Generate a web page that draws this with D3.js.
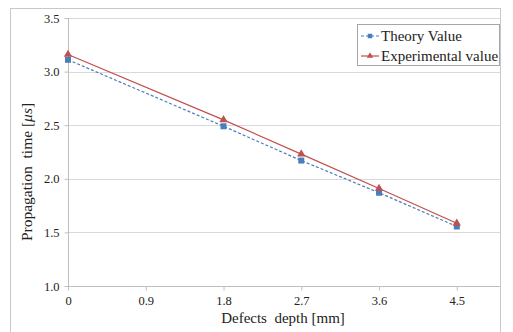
<!DOCTYPE html>
<html>
<head>
<meta charset="utf-8">
<script src="https://cdn.jsdelivr.net/npm/d3@7"></script>
<style>
  body { margin: 0; background: #fff; }
  svg text { font-family: "Liberation Serif", "Times New Roman", serif !important; fill: #222; }
</style>
</head>
<body>
<svg id="chart" width="513" height="332"></svg>
<script>
// data
const depths = [0, 1.8, 2.7, 3.6, 4.5];
const theoryValues = [3.11, 2.49, 2.17, 1.87, 1.555];
const experimentalValues = [3.16, 2.55, 2.23, 1.91, 1.585];
const xTicks = [0, 0.9, 1.8, 2.7, 3.6, 4.5];
const yTicks = [1.0, 1.5, 2.0, 2.5, 3.0, 3.5];
const seriesNames = ['Theory Value', 'Experimental value'];

const width = 513, height = 332;
const margin = { top: 18, right: 13, bottom: 46, left: 68 };

const svg = d3.select('#chart');

// outer chart frame
svg.append('rect')
  .attr('x', 10.5).attr('y', 8.5)
  .attr('width', 490).attr('height', 330)
  .attr('fill', '#fff').attr('stroke', '#c8c8c8');

const x = d3.scaleLinear().domain([0, 5]).range([margin.left, width - margin.right]);
const y = d3.scaleLinear().domain([1, 3.5]).range([height - margin.bottom, margin.top]);

// gridlines
svg.append('g')
  .selectAll('line')
  .data(yTicks.slice(1))
  .join('line')
  .attr('x1', x(0)).attr('x2', x(5))
  .attr('y1', d => Math.round(y(d)) + 0.5).attr('y2', d => Math.round(y(d)) + 0.5)
  .attr('stroke', '#d9d9d9');

// axes
const xAxis = svg.append('g')
  .attr('transform', `translate(0,${Math.round(y(1)) + 0.5})`)
  .call(d3.axisBottom(x).tickValues(xTicks).tickSize(4)
    .tickFormat(d => d === 0 ? '0' : d3.format('.1f')(d)));
const yAxis = svg.append('g')
  .attr('transform', `translate(${Math.round(x(0)) + 0.5},0)`)
  .call(d3.axisLeft(y).tickValues(yTicks).tickSize(4).tickFormat(d3.format('.1f')));

[xAxis, yAxis].forEach(a => {
  a.attr('font-family', null);
  a.select('.domain').attr('stroke', '#bfbfbf');
  a.selectAll('.tick line').attr('stroke', '#bfbfbf');
  a.selectAll('.tick text').attr('font-size', 12.5).attr('fill', '#222');
});
xAxis.select('.domain').attr('d', `M${x(0)},0H${x(5)}`);
xAxis.selectAll('.tick line').attr('y2', 4);
xAxis.selectAll('.tick text').attr('dy', '0.95em');
yAxis.select('.domain').attr('d', `M0,${y(1)}V${y(3.5)}`);
yAxis.selectAll('.tick line').attr('x2', -4);
yAxis.selectAll('.tick text').attr('x', -9);

// axis titles
svg.append('text')
  .attr('x', 283).attr('y', 323)
  .attr('text-anchor', 'middle').attr('font-size', 15)
  .attr('xml:space', 'preserve')
  .text('Defects  depth [mm]');

const yTitle = svg.append('text')
  .attr('transform', 'translate(32,172) rotate(-90)')
  .attr('text-anchor', 'middle').attr('font-size', 15.5)
  .attr('xml:space', 'preserve');
yTitle.append('tspan').text('Propagation  time [');
yTitle.append('tspan').attr('font-style', 'italic').text('\u03bcs');
yTitle.append('tspan').text(']');

// series
const series = [
  { name: seriesNames[0], values: theoryValues, color: '#4a7ebb', dash: '3,2', marker: 'square' },
  { name: seriesNames[1], values: experimentalValues, color: '#c0504d', dash: null, marker: 'triangle' },
];

const line = d3.line().x(d => x(d[0])).y(d => y(d[1]));

series.forEach(s => {
  const pts = depths.map((d, i) => [d, s.values[i]]);
  svg.append('path')
    .datum(pts)
    .attr('d', line)
    .attr('fill', 'none')
    .attr('stroke', s.color)
    .attr('stroke-width', 1.2)
    .attr('stroke-dasharray', s.dash);
  svg.append('g')
    .selectAll('path')
    .data(pts)
    .join('path')
    .attr('transform', d => `translate(${x(d[0])},${y(d[1])})`)
    .attr('d', d3.symbol(s.marker === 'square' ? d3.symbolSquare : d3.symbolTriangle, s.marker === 'square' ? 36 : 30))
    .attr('fill', s.color);
});

// legend
const legend = svg.append('g');
legend.append('rect')
  .attr('x', 357.5).attr('y', 24.5).attr('width', 142).attr('height', 41)
  .attr('fill', '#fff').attr('stroke', '#a6a6a6');
series.forEach((s, i) => {
  const ly = 36 + i * 20;
  legend.append('line')
    .attr('x1', 361).attr('x2', 379).attr('y1', ly).attr('y2', ly)
    .attr('stroke', s.color).attr('stroke-width', 1.2)
    .attr('stroke-dasharray', s.dash);
  legend.append('path')
    .attr('transform', `translate(370,${ly})`)
    .attr('d', d3.symbol(s.marker === 'square' ? d3.symbolSquare : d3.symbolTriangle, s.marker === 'square' ? 20 : 18))
    .attr('fill', s.color);
  legend.append('text')
    .attr('x', 381).attr('y', ly).attr('dy', '0.35em')
    .attr('font-size', 15)
    .text(s.name);
});
</script>
</body>
</html>
